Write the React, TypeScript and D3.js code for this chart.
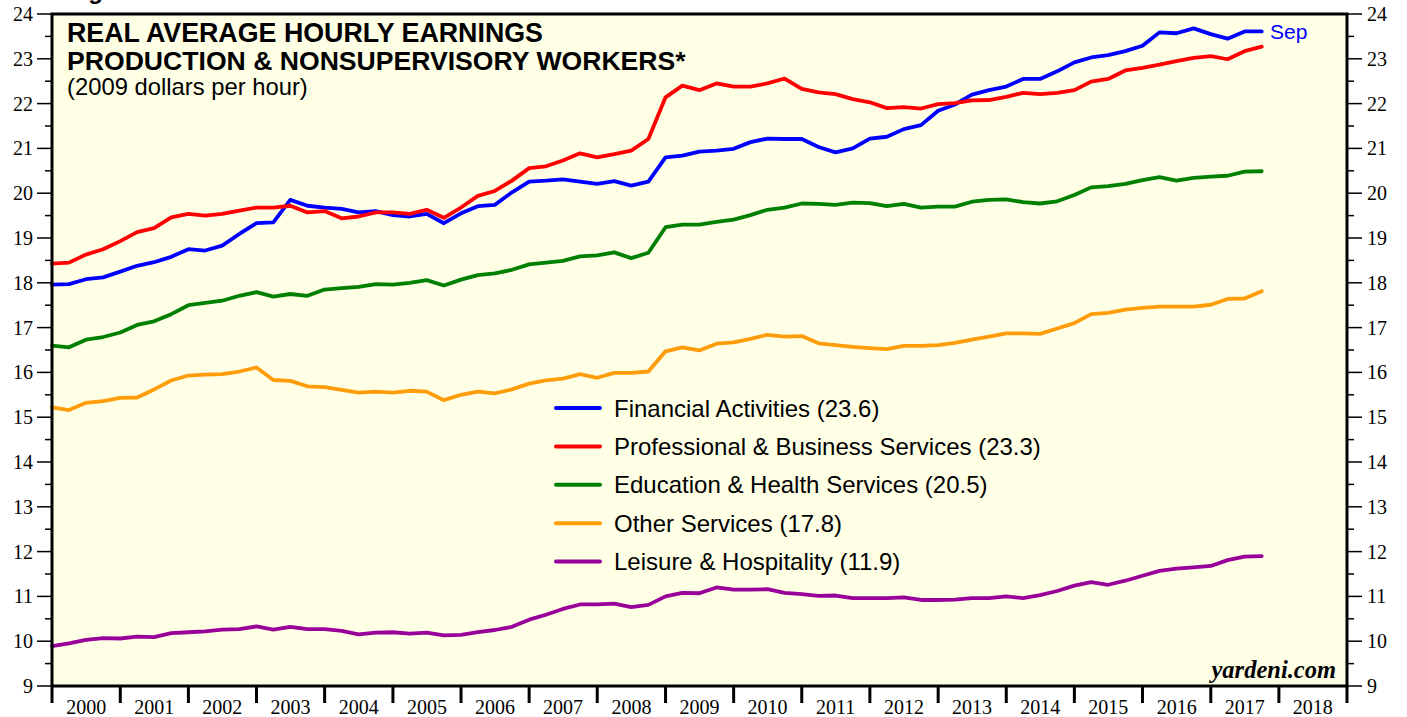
import React, { useRef, useEffect } from "react";
import * as d3 from "d3";

// quarterly points, Jan 2000 .. Oct 2017 (last = Sep 2017 reading)
const dates = d3.range(72).map((i) => new Date(2000, i * 3, 1));

const financial = [
  17.96, 17.97, 18.08, 18.12, 18.25, 18.38, 18.46, 18.58, 18.75, 18.72,
  18.83, 19.09, 19.33, 19.35, 19.85, 19.72, 19.68, 19.65, 19.57, 19.6,
  19.51, 19.48, 19.54, 19.33, 19.55, 19.71, 19.74, 20.02, 20.26, 20.28,
  20.31, 20.26, 20.21, 20.27, 20.17, 20.26, 20.8, 20.84, 20.93, 20.95,
  20.99, 21.14, 21.22, 21.21, 21.21, 21.03, 20.91, 21.0, 21.22, 21.26,
  21.43, 21.52, 21.84, 21.98, 22.2, 22.3, 22.38, 22.55, 22.55, 22.72,
  22.92, 23.03, 23.08, 23.17, 23.29, 23.59, 23.57, 23.68, 23.55, 23.45,
  23.61, 23.61,
];

const professional = [
  18.43, 18.45, 18.63, 18.75, 18.93, 19.13, 19.22, 19.46, 19.54, 19.5,
  19.54, 19.61, 19.68, 19.68, 19.72, 19.57, 19.6, 19.44, 19.48, 19.57,
  19.57, 19.54, 19.63, 19.45, 19.68, 19.94, 20.05, 20.28, 20.56, 20.6,
  20.73, 20.89, 20.8, 20.87, 20.95, 21.21, 22.14, 22.4, 22.3, 22.45,
  22.38, 22.38, 22.45, 22.56, 22.33, 22.25, 22.21, 22.1, 22.03, 21.9,
  21.92, 21.89, 21.99, 22.01, 22.07, 22.08, 22.15, 22.24, 22.21, 22.24,
  22.3, 22.49, 22.55, 22.74, 22.8, 22.87, 22.95, 23.02, 23.06, 22.99,
  23.17, 23.27,
];

const education = [
  16.6, 16.56, 16.73, 16.79, 16.89, 17.06, 17.14, 17.3, 17.5, 17.55,
  17.6, 17.71, 17.79, 17.69, 17.75, 17.71, 17.85, 17.88, 17.91, 17.97,
  17.96, 18.0, 18.06, 17.94, 18.07, 18.17, 18.21, 18.29, 18.41, 18.45,
  18.49, 18.59, 18.61, 18.68, 18.55, 18.67, 19.24, 19.3, 19.3, 19.36,
  19.41, 19.51, 19.63, 19.68, 19.77, 19.76, 19.74, 19.79, 19.78, 19.71,
  19.76, 19.68, 19.7, 19.7, 19.81, 19.85, 19.86, 19.8, 19.77, 19.82,
  19.96, 20.13, 20.16, 20.21, 20.29, 20.36, 20.28, 20.34, 20.37, 20.39,
  20.48, 20.49,
];

const otherServices = [
  15.22, 15.16, 15.32, 15.36, 15.43, 15.44, 15.62, 15.82, 15.93, 15.95,
  15.96, 16.02, 16.11, 15.83, 15.81, 15.69, 15.67, 15.61, 15.55, 15.57,
  15.55, 15.59, 15.57, 15.38, 15.5, 15.57, 15.53, 15.62, 15.75, 15.82,
  15.86, 15.96, 15.88, 15.99, 15.99, 16.02, 16.47, 16.56, 16.49, 16.64,
  16.67, 16.75, 16.84, 16.8, 16.81, 16.65, 16.61, 16.57, 16.54, 16.52,
  16.59, 16.59, 16.61, 16.66, 16.73, 16.8, 16.87, 16.87, 16.86, 16.98,
  17.1, 17.3, 17.33, 17.4, 17.44, 17.47, 17.47, 17.47, 17.51, 17.64,
  17.65, 17.81,
];

const leisure = [
  9.89, 9.95, 10.03, 10.07, 10.06, 10.1, 10.09, 10.18, 10.2, 10.22,
  10.26, 10.27, 10.33, 10.26, 10.32, 10.27, 10.27, 10.23, 10.15, 10.19,
  10.2, 10.17, 10.19, 10.13, 10.14, 10.2, 10.25, 10.32, 10.48, 10.59,
  10.72, 10.82, 10.82, 10.84, 10.76, 10.81, 11.0, 11.08, 11.07, 11.2,
  11.15, 11.15, 11.16, 11.08, 11.05, 11.01, 11.02, 10.96, 10.96, 10.96,
  10.98, 10.92, 10.92, 10.93, 10.96, 10.96, 11.0, 10.96, 11.03, 11.12,
  11.24, 11.32, 11.26, 11.35, 11.46, 11.57, 11.62, 11.65, 11.68, 11.81,
  11.89, 11.9,
];

const seriesNames = [
  "Financial Activities (23.6)",
  "Professional & Business Services (23.3)",
  "Education & Health Services (20.5)",
  "Other Services (17.8)",
  "Leisure & Hospitality (11.9)",
];
const seriesValues = [financial, professional, education, otherServices, leisure];
const seriesColors = ["#0000ff", "#ff0000", "#008000", "#ff9c0a", "#990099"];

const years = d3.range(2000, 2019);

const App = () => {
  const svgRef = useRef(null);

  useEffect(() => {
    if (!svgRef.current) return;

    const width = 1407;
    const height = 717;
    const left = 52;
    const right = 1347;
    const top = 14;
    const bottom = 686;

    const svg = d3.select(svgRef.current).attr("width", width).attr("height", height);
    svg.selectAll("*").remove();

    const x = d3
      .scaleTime()
      .domain([new Date(2000, 0, 1), new Date(2019, 0, 1)])
      .range([left, right]);
    const y = d3.scaleLinear().domain([9, 24]).range([bottom, top]);

    const sans = "'Liberation Sans', Arial, Helvetica, sans-serif";
    const serif = "'Liberation Serif', 'Times New Roman', serif";

    svg.append("rect").attr("width", width).attr("height", height).attr("fill", "#fff");

    // plot background
    svg
      .append("rect")
      .attr("x", left)
      .attr("y", top)
      .attr("width", right - left)
      .attr("height", bottom - top)
      .attr("fill", "#ffffe6");

    // figure caption, mostly above the page edge as in the source
    svg
      .append("text")
      .attr("x", 67)
      .attr("y", -1)
      .style("font-family", sans)
      .style("font-weight", "bold")
      .style("font-size", "24px")
      .text("Figure 6.");

    // y ticks, both sides
    const halfTicks = d3.range(9, 24.01, 0.5);
    const g = svg.append("g");
    halfTicks.forEach((v) => {
      const major = Number.isInteger(v);
      g.append("line")
        .attr("x1", left - (major ? 15 : 7))
        .attr("x2", left)
        .attr("y1", y(v))
        .attr("y2", y(v))
        .attr("stroke", "#000")
        .attr("stroke-width", 1.5);
      g.append("line")
        .attr("x1", right)
        .attr("x2", right + (major ? 15 : 7))
        .attr("y1", y(v))
        .attr("y2", y(v))
        .attr("stroke", "#000")
        .attr("stroke-width", 1.5);
    });
    y.ticks(15).forEach((v) => {
      g.append("text")
        .attr("x", 33)
        .attr("y", y(v))
        .attr("dy", "0.35em")
        .attr("text-anchor", "end")
        .style("font-family", serif)
        .style("font-size", "20px")
        .text(v);
      g.append("text")
        .attr("x", 1367)
        .attr("y", y(v))
        .attr("dy", "0.35em")
        .style("font-family", serif)
        .style("font-size", "20px")
        .text(v);
    });

    // x ticks at year boundaries, labels in between
    d3.range(2000, 2020).forEach((yr) => {
      g.append("line")
        .attr("x1", x(new Date(yr, 0, 1)))
        .attr("x2", x(new Date(yr, 0, 1)))
        .attr("y1", bottom)
        .attr("y2", bottom + 17)
        .attr("stroke", "#000")
        .attr("stroke-width", 3);
    });
    years.forEach((yr) => {
      g.append("text")
        .attr("x", x(new Date(yr, 6, 2)))
        .attr("y", 714)
        .attr("text-anchor", "middle")
        .style("font-family", serif)
        .style("font-size", "20px")
        .text(yr);
    });

    // lines
    const line = d3
      .line()
      .x((d, i) => x(dates[i]))
      .y((d) => y(d))
      .curve(d3.curveLinear);

    seriesValues.forEach((vals, k) => {
      svg
        .append("path")
        .datum(vals)
        .attr("d", line)
        .attr("fill", "none")
        .attr("stroke", seriesColors[k])
        .attr("stroke-width", 3.8)
        .attr("stroke-linejoin", "round")
        .attr("stroke-linecap", "round");
    });

    // frame
    svg
      .append("path")
      .attr("d", `M${left},${bottom}V${top}H${right}V${bottom}H${left}`)
      .attr("fill", "none")
      .attr("stroke", "#000")
      .attr("stroke-width", 3);

    // titles
    const title = svg.append("g").style("font-family", sans);
    title
      .append("text")
      .attr("x", 67)
      .attr("y", 42)
      .style("font-weight", "bold")
      .style("font-size", "26.8px")
      .text("REAL AVERAGE HOURLY EARNINGS");
    title
      .append("text")
      .attr("x", 67)
      .attr("y", 70)
      .style("font-weight", "bold")
      .style("font-size", "26.6px")
      .text("PRODUCTION & NONSUPERVISORY WORKERS*");
    title
      .append("text")
      .attr("x", 67)
      .attr("y", 95)
      .style("font-size", "23.8px")
      .text("(2009 dollars per hour)");

    // Sep label
    svg
      .append("text")
      .attr("x", 1270)
      .attr("y", 39)
      .attr("fill", "#0000ff")
      .style("font-family", sans)
      .style("font-size", "21px")
      .text("Sep");

    // legend
    const legend = svg.append("g");
    seriesNames.forEach((name, k) => {
      const ly = 408 + k * 38.4;
      legend
        .append("line")
        .attr("x1", 556)
        .attr("x2", 600)
        .attr("y1", ly)
        .attr("y2", ly)
        .attr("stroke", seriesColors[k])
        .attr("stroke-width", 4)
        .attr("stroke-linecap", "round");
      legend
        .append("text")
        .attr("x", 614)
        .attr("y", ly)
        .attr("dy", "0.36em")
        .style("font-family", sans)
        .style("font-size", "24px")
        .text(name);
    });

    // source
    svg
      .append("text")
      .attr("x", 1336)
      .attr("y", 678)
      .attr("text-anchor", "end")
      .style("font-family", serif)
      .style("font-weight", "bold")
      .style("font-style", "italic")
      .style("font-size", "24.5px")
      .text("yardeni.com");
  }, []);

  return (
    <svg
      ref={svgRef}
      style={{ position: "absolute", left: 0, top: 0, display: "block" }}
    ></svg>
  );
};

export default App;
